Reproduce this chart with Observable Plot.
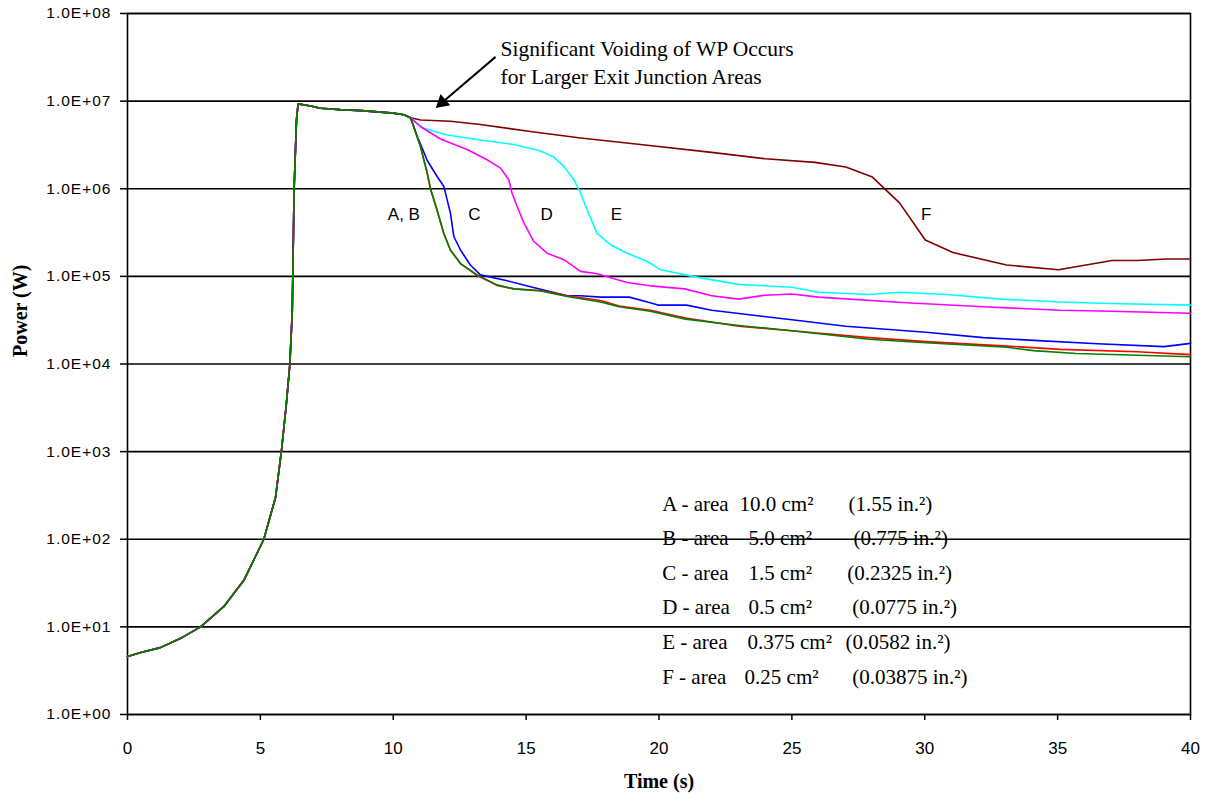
<!DOCTYPE html>
<html>
<head>
<meta charset="utf-8">
<script src="https://cdn.jsdelivr.net/npm/d3@7"></script>
<script src="https://cdn.jsdelivr.net/npm/@observablehq/plot@0.6"></script>
<style>
  html, body { margin: 0; padding: 0; background: #fff; }
  #chart { width: 1206px; height: 802px; }
</style>
</head>
<body>
<div id="chart"></div>
<script>
// ---- Data ----
const xTicks = [0, 5, 10, 15, 20, 25, 30, 35, 40];
const yTicks = [1e0, 1e1, 1e2, 1e3, 1e4, 1e5, 1e6, 1e7, 1e8];

// common power rise shared by all six cases (time s, power W)
const riseT = [0, 0.5, 1.24, 2, 2.75, 3.62, 4.38, 5.13, 5.57, 5.79, 5.97, 6.11, 6.2, 6.22, 6.27, 6.36, 6.42, 6.89, 7.26, 8, 8.8, 10, 10.4, 10.65];
const riseP = [4.6, 5.1, 5.8, 7.4, 10, 17, 34, 100, 300, 1000, 3300, 1e4, 4e4, 1e5, 1e6, 6.2e6, 9.3e6, 8.8e6, 8.3e6, 8.0e6, 7.8e6, 7.3e6, 7.0e6, 6.45e6];

const seriesNames = ["F", "E", "D", "C", "A", "B"];
const seriesColors = ["#800000", "#00FFFF", "#FF00FF", "#0000FF", "#FF0000", "#008000"];

const tailA = [[10.77,5.1e6],[11.03,3.0e6],[11.28,1.5e6],[11.4,1.0e6],[11.65,5.7e5],[11.9,3.1e5],[12.15,2.0e5],[12.53,1.4e5],[13.16,1.02e5],[13.9,7.9e4],[14.54,7.2e4],[15.54,6.9e4],[16.55,6.0e4],[17.8,5.3e4],[18.5,4.6e4],[19.67,4.1e4],[21,3.35e4],[23,2.7e4],[25,2.4e4],[27.9,2.0e4],[30.05,1.8e4],[33.1,1.6e4],[35.1,1.47e4],[38,1.38e4],[40,1.28e4]];
const tailB = [[10.77,5.1e6],[11.03,3.0e6],[11.28,1.5e6],[11.4,1.0e6],[11.65,5.7e5],[11.9,3.1e5],[12.15,2.0e5],[12.53,1.4e5],[13.16,1.04e5],[13.9,8.0e4],[14.54,7.2e4],[15.54,6.8e4],[16.55,5.9e4],[17.8,5.1e4],[18.5,4.5e4],[19.67,4.0e4],[21,3.25e4],[23,2.75e4],[25,2.4e4],[27.9,1.92e4],[30.05,1.75e4],[33.1,1.55e4],[34.1,1.42e4],[35.7,1.32e4],[40,1.21e4]];
const tailC = [[10.9,4.0e6],[11.28,2.1e6],[11.65,1.38e6],[11.9,1.07e6],[12.15,5.3e5],[12.28,2.85e5],[12.53,2.0e5],[12.9,1.35e5],[13.28,1.04e5],[14.29,8.9e4],[15.16,7.6e4],[16.55,6.0e4],[17.05,6.0e4],[17.8,5.8e4],[18.88,5.8e4],[19.67,5.0e4],[19.96,4.7e4],[21.04,4.7e4],[21.98,4.1e4],[25,3.2e4],[27.03,2.7e4],[30.05,2.3e4],[32.2,2.0e4],[34.1,1.86e4],[36.5,1.7e4],[39,1.58e4],[40,1.72e4]];
const tailD = [[11.03,5.1e6],[11.78,3.7e6],[12.78,2.8e6],[13.53,2.14e6],[14.04,1.72e6],[14.35,1.26e6],[14.47,8.9e5],[14.66,6.3e5],[14.91,4.1e5],[15.29,2.5e5],[15.79,1.84e5],[16.42,1.55e5],[17.05,1.14e5],[17.67,1.07e5],[18.8,8.5e4],[19.67,7.8e4],[20.97,7.2e4],[21.98,6.0e4],[22.99,5.5e4],[24,6.1e4],[25,6.3e4],[26,5.8e4],[29.3,5.0e4],[32.2,4.5e4],[35.1,4.1e4],[37,4.0e4],[40,3.8e4]];
const tailE = [[11.15,4.9e6],[12.03,4.1e6],[13.28,3.6e6],[14.54,3.2e6],[15.54,2.7e6],[16.04,2.3e6],[16.42,1.8e6],[16.8,1.26e6],[17.05,8.9e5],[17.3,5.7e5],[17.67,3.1e5],[18.17,2.3e5],[18.8,1.84e5],[19.56,1.48e5],[20.03,1.2e5],[21.26,1.0e5],[22.99,8.1e4],[25,7.5e4],[26,6.6e4],[27.9,6.2e4],[29.05,6.6e4],[30.8,6.2e4],[32.9,5.5e4],[35.1,5.1e4],[36.97,4.9e4],[40,4.7e4]];
const tailF = [[11.03,6.1e6],[12.15,5.9e6],[13.28,5.4e6],[15.16,4.5e6],[17.05,3.8e6],[19.3,3.2e6],[21.98,2.6e6],[24,2.2e6],[25.87,2.0e6],[27.03,1.77e6],[28.03,1.36e6],[29.05,6.9e5],[30.02,2.6e5],[31.06,1.87e5],[33.08,1.35e5],[35.03,1.19e5],[37.05,1.52e5],[38,1.52e5],[39.1,1.58e5],[40,1.58e5]];
const tails = {A: tailA, B: tailB, C: tailC, D: tailD, E: tailE, F: tailF};

// curve labels
const curveLabels = ["A, B", "C", "D", "E", "F"];
const curveLabelT = [10.4, 13.05, 15.77, 18.4, 30.05];
const curveLabelP = 5.05e5;

// legend texts
const legendName = ["A - area", "B - area", "C - area", "D - area", "E - area", "F - area"];
const legendCm = ["10.0 cm\u00B2", "5.0 cm\u00B2", "1.5 cm\u00B2", "0.5 cm\u00B2", "0.375 cm\u00B2", "0.25 cm\u00B2"];
const legendIn = ["(1.55 in.\u00B2)", "(0.775 in.\u00B2)", "(0.2325 in.\u00B2)", "(0.0775 in.\u00B2)", "(0.0582 in.\u00B2)", "(0.03875 in.\u00B2)"];

const noteLines = ["Significant Voiding of WP Occurs", "for Larger Exit Junction Areas"];

// ---- build tidy table ----
const rows = [];
for (const s of seriesNames) {
  riseT.forEach((t, i) => rows.push({series: s, t, p: riseP[i]}));
  tails[s].forEach(([t, p]) => rows.push({series: s, t, p}));
}

// legend layout (data coordinates for annotation placement)
const legendLogY = [2.323, 1.931, 1.531, 1.150, 0.750, 0.350];
const legendCmT = [23.03, 23.37, 23.37, 23.37, 23.33, 23.22];
const legendInT = [27.13, 27.32, 27.08, 27.27, 27.02, 27.27];
const legendRows = legendName.map((n, i) => ({name: n, cm: legendCm[i], inch: legendIn[i], y: 10 ** legendLogY[i], xc: legendCmT[i], xi: legendInT[i]}));

const fmt = d => "1.0E+" + String(Math.round(Math.log10(d))).padStart(2, "0");
const serif = "'Liberation Serif', 'Times New Roman', serif";
const sans = "'Liberation Sans', Arial, sans-serif";

const marks = [
  // legend text (drawn beneath the gridlines like the reference)
  Plot.text(legendRows, {x: 20.12, y: "y", text: "name", textAnchor: "start", lineAnchor: "bottom", fontFamily: serif, fontSize: 21, fill: "#000"}),
  Plot.text(legendRows, {x: "xc", y: "y", text: "cm", textAnchor: "start", lineAnchor: "bottom", fontFamily: serif, fontSize: 21, fill: "#000"}),
  Plot.text(legendRows, {x: "xi", y: "y", text: "inch", textAnchor: "start", lineAnchor: "bottom", fontFamily: serif, fontSize: 21, fill: "#000"}),
  // gridlines and frame
  Plot.ruleY(yTicks, {stroke: "#000", strokeWidth: 1.6}),
  Plot.frame({stroke: "#000", strokeWidth: 1.6}),
  Plot.axisY({ticks: yTicks, tickFormat: fmt, tickSize: 7, tickPadding: 9, fontSize: 15.5, fontFamily: sans, label: null, stroke: "#000", strokeWidth: 1.5}),
  Plot.axisX({ticks: xTicks, tickSize: 6, tickPadding: 21, fontSize: 17, fontFamily: sans, label: null, stroke: "#000", strokeWidth: 1.5}),
];
seriesNames.forEach((s, i) => {
  marks.push(Plot.line(rows.filter(r => r.series === s), {x: "t", y: "p", stroke: seriesColors[i], strokeWidth: 1.6}));
});
marks.push(
  Plot.text(curveLabels, {x: (d, i) => curveLabelT[i], y: () => curveLabelP, text: d => d, fontFamily: sans, fontSize: 17, fill: "#000"}),
  Plot.text(noteLines, {x: 14.04, y: (d, i) => [10 ** 7.52, 10 ** 7.2][i], text: d => d, textAnchor: "start", lineAnchor: "bottom", fontFamily: serif, fontSize: 21.5, fill: "#000"}),
  // annotation arrow: shaft + filled triangular head
  Plot.link([{x1: 13.85, y1: 10 ** 7.505, x2: 11.84, y2: 10 ** 6.985}], {x1: "x1", y1: "y1", x2: "x2", y2: "y2", stroke: "#000", strokeWidth: 2}),
  Plot.dot([{x: 11.84, y: 10 ** 6.985}], {x: "x", y: "y", symbol: "triangle", r: 5.5, fill: "#000", stroke: "none", rotate: 229}),
  Plot.text(["Power (W)"], {frameAnchor: "left", dx: -107, dy: -7, rotate: -90, text: d => d, fontFamily: serif, fontWeight: "bold", fontSize: 20, fill: "#000"}),
  Plot.text(["Time (s)"], {frameAnchor: "bottom", dy: 73, text: d => d, fontFamily: serif, fontWeight: "bold", fontSize: 20, fill: "#000"})
);

const chart = Plot.plot({
  width: 1206,
  height: 802,
  marginLeft: 127,
  marginRight: 16,
  marginTop: 13,
  marginBottom: 88,
  style: {background: "#fff", fontFamily: sans, color: "#000"},
  x: {domain: [0, 40]},
  y: {type: "log", domain: [1, 1e8]},
  marks
});
d3.select(chart).selectAll('g[aria-label="y-axis tick label"] text').attr("letter-spacing", "1px");
document.getElementById("chart").appendChild(chart);
</script>
</body>
</html>
